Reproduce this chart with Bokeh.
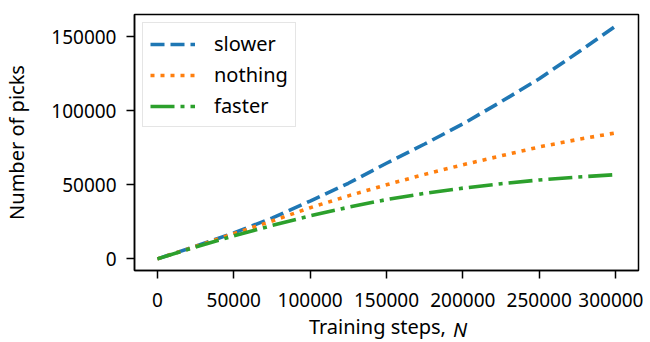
from bokeh.plotting import figure
from bokeh.models import Range1d, FixedTicker, BasicTickFormatter, Legend, LegendItem, LinearAxis
from bokeh.embed import file_html
from bokeh.resources import INLINE

steps = [0, 25000, 50000, 75000, 100000, 125000, 150000, 175000, 200000, 225000, 250000, 275000, 300000]
slower = [0, 8500, 17500, 27500, 39000, 51000, 64500, 77500, 91000, 106000, 121500, 139000, 157000]
nothing = [0, 8300, 17000, 25500, 34500, 42500, 50000, 57000, 63500, 69500, 75500, 80500, 85000]
faster = [0, 8000, 15500, 22500, 29000, 34800, 40000, 44200, 47700, 50700, 53200, 55200, 56800]
x_ticks = [0, 50000, 100000, 150000, 200000, 250000, 300000]
y_ticks = [0, 50000, 100000, 150000]
series_names = ["slower", "nothing", "faster"]
x_label = "Training steps,"
x_label_var = "N"
y_label = "Number of picks"

FONT = "Noto Sans"
FS = "20px"
TICK_FS = "19px"

xspan = max(steps) - min(steps)
yall = slower + nothing + faster
ymin, ymax = min(yall), max(yall)
yspan = ymax - ymin
x0, x1 = min(steps) - 0.05 * xspan, max(steps) + 0.05 * xspan

p = figure(frame_width=504, frame_height=256, output_backend="svg", toolbar_location=None,
           x_range=Range1d(x0, x1),
           y_range=Range1d(ymin - 0.05 * yspan, ymax + 0.05 * yspan),
           min_border_left=125, min_border_right=5, min_border_top=14, min_border_bottom=64)

p.grid.visible = False
p.outline_line_color = "black"
p.outline_line_width = 1.5
p.outline_line_alpha = 1.0

p.xaxis.ticker = FixedTicker(ticks=x_ticks)
p.yaxis.ticker = FixedTicker(ticks=y_ticks)
for ax in (p.xaxis[0], p.yaxis[0]):
    ax.formatter = BasicTickFormatter(use_scientific=False)
    ax.axis_line_color = "black"
    ax.axis_line_width = 1.5
    ax.major_tick_line_color = "black"
    ax.major_tick_line_width = 1.5
    ax.major_tick_out = 8
    ax.major_tick_in = 0
    ax.minor_tick_line_color = None
    ax.major_label_text_font = FONT
    ax.major_label_text_font_size = TICK_FS
    ax.major_label_text_color = "black"
p.xaxis.major_label_standoff = 14
p.yaxis.major_label_standoff = 10

p.yaxis.axis_label = y_label
p.yaxis.axis_label_text_font = FONT
p.yaxis.axis_label_text_font_size = FS
p.yaxis.axis_label_text_font_style = "normal"
p.yaxis.axis_label_text_color = "black"
p.yaxis.axis_label_standoff = 18


def label_axis(text, frac, standoff, style):
    pos = x0 + (x1 - x0) * frac
    return LinearAxis(ticker=FixedTicker(ticks=[pos]), major_label_overrides={pos: text},
                      axis_line_color=None, major_tick_line_color=None, minor_tick_line_color=None,
                      major_tick_out=0, major_tick_in=0, major_label_standoff=standoff,
                      major_label_text_font=FONT, major_label_text_font_size=FS,
                      major_label_text_font_style=style, major_label_text_color="black")


# x-axis title: normal text plus an italic variable on the same row
p.add_layout(label_axis(x_label, 0.482, 3, "normal"), "below")
p.add_layout(label_axis(x_label_var, 0.646, -27, "italic"), "below")

colors = ["#1f77b4", "#ff7f0e", "#2ca02c"]
dashes = ["14 6", "4 6", "24 6 4 6"]
renderers = []
for ys, c, d in zip([slower, nothing, faster], colors, dashes):
    r = p.line(steps, ys, line_color=c, line_width=3.6, line_dash=d)
    renderers.append(r)

legend = Legend(items=[LegendItem(label=n, renderers=[r]) for n, r in zip(series_names, renderers)],
                location="top_left", margin=8, padding=7, spacing=4,
                glyph_width=45, glyph_height=24, label_standoff=19,
                label_text_font=FONT, label_text_font_size=FS, label_text_color="black",
                border_line_color="#cccccc", border_line_width=1,
                background_fill_color="white", background_fill_alpha=0.8)
p.add_layout(legend)

open("out.html", "w").write(file_html(p, INLINE))
